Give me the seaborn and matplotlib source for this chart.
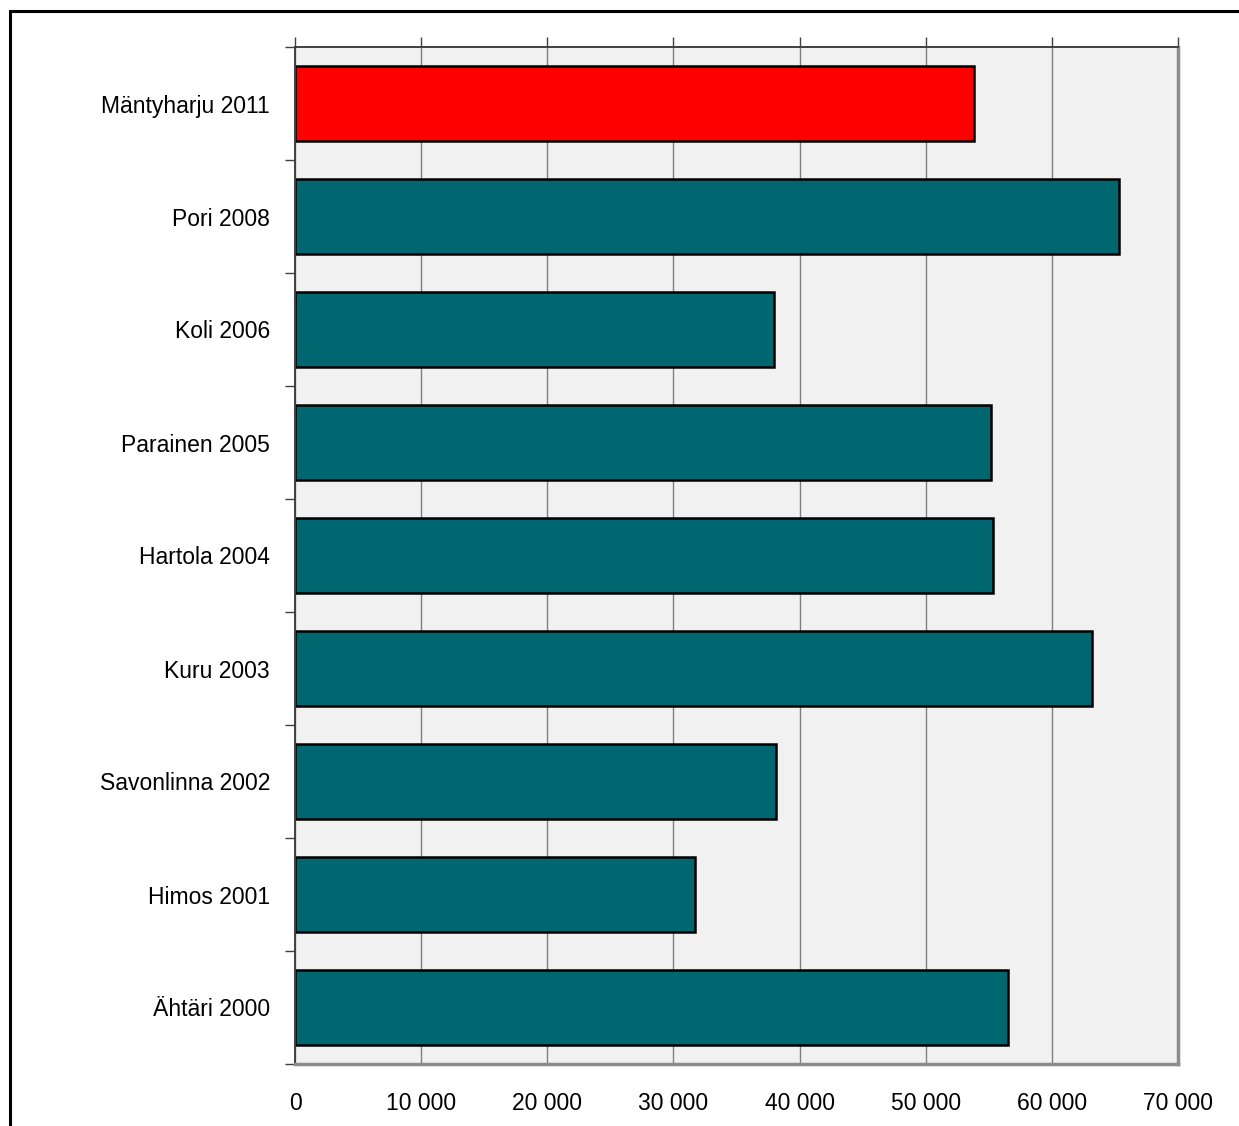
import matplotlib.pyplot as plt
import seaborn as sns
import pandas as pd
import numpy as np
from matplotlib.patches import Rectangle
from matplotlib.ticker import FuncFormatter

# visitor numbers per event
events = ['Mäntyharju 2011', 'Pori 2008', 'Koli 2006', 'Parainen 2005', 'Hartola 2004',
          'Kuru 2003', 'Savonlinna 2002', 'Himos 2001', 'Ähtäri 2000']
visitors = [53800, 65300, 38000, 55200, 55300, 63200, 38100, 31700, 56500]
bar_colors = ['#FF0000'] + ['#006670'] * 8
x_ticks = [0, 10000, 20000, 30000, 40000, 50000, 60000, 70000]

sns.set_style('white')
plt.rcParams['font.family'] = 'sans-serif'
plt.rcParams['font.sans-serif'] = ['Liberation Sans', 'DejaVu Sans']
plt.rcParams['text.color'] = 'black'
plt.rcParams['xtick.labelcolor'] = 'black'
plt.rcParams['ytick.labelcolor'] = 'black'

df = pd.DataFrame({'event': events, 'visitors': visitors})

fig = plt.figure(figsize=(12.39, 11.26), dpi=100)
ax = fig.add_axes([295 / 1239, 62 / 1126, 883 / 1239, 1017 / 1126])
ax.set_facecolor('#F1F1F1')

sns.barplot(data=df, x='visitors', y='event', hue='event', palette=bar_colors,
            saturation=1, legend=False, width=0.66, edgecolor='black',
            linewidth=1.8, ax=ax)

ax.set_xlim(0, 70000)
ax.set_ylim(len(events) - 0.5, -0.5)
ax.set_xlabel('')
ax.set_ylabel('')

# x: tick marks on top, labels at the bottom
ax.set_xticks(x_ticks)
ax.xaxis.set_major_formatter(FuncFormatter(lambda v, p: f'{int(v):,}'.replace(',', ' ')))
ax.tick_params(axis='x', top=True, bottom=False, labeltop=False, labelbottom=True,
               direction='out', length=7, width=1, color='#404040', pad=13,
               labelsize=16.5, labelcolor='black')

# y: labels at centres, tick marks on category boundaries
ax.set_yticks(np.arange(len(events) + 1) - 0.5, minor=True)
ax.tick_params(axis='y', which='major', length=0, pad=18, labelsize=16.5, labelcolor='black')
ax.tick_params(axis='y', which='minor', left=True, length=7, width=1, color='#404040')

ax.set_axisbelow(True)
ax.xaxis.grid(True, color='#808080', linewidth=1)

for side in ['top', 'left']:
    ax.spines[side].set_color('#404040')
    ax.spines[side].set_linewidth(1.4)
for side in ['right', 'bottom']:
    ax.spines[side].set_color('#8C8C8C')
    ax.spines[side].set_linewidth(2.5)

# outer frame (cut off at right and bottom)
fig.add_artist(Rectangle((9.5 / 1239, -0.1), 1.2, 1.1 - 11 / 1126, fill=False,
                         edgecolor='black', linewidth=2.2, transform=fig.transFigure))

fig.savefig('out.png', dpi=100)
